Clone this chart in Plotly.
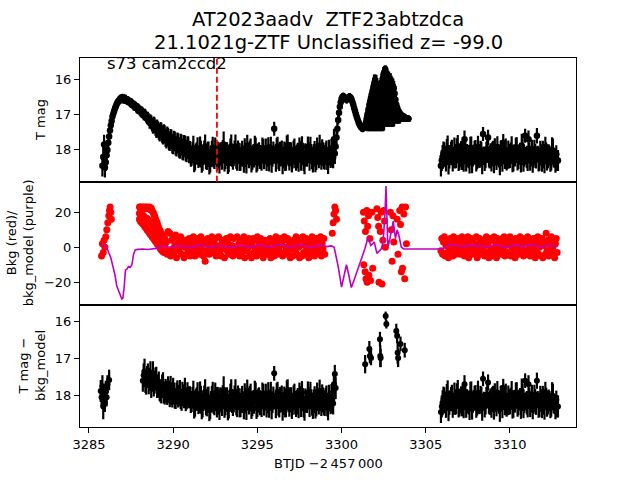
import numpy as np
import plotly.graph_objects as go

# ---------------- data ----------------
# Panel 1: T mag, rise/decay part, cadence 0.1 d from 3285.8 (two interleaved sets)
tmag_rise_start = 3285.8
tmag_rise = [18.45, 17.85, 18.35, 18.00, 17.62, 17.30, 17.05, 16.90, 16.76, 16.66,
             16.59, 16.55, 16.54, 16.55, 16.57, 16.60, 16.63, 16.67, 16.71, 16.75,
             16.79, 16.83, 16.87, 16.92, 16.96, 17.00, 17.06, 17.10, 17.21, 17.22,
             17.33, 17.30, 17.44, 17.42, 17.52, 17.48, 17.60, 17.56, 17.70, 17.64,
             17.76, 17.70, 17.84, 17.76, 17.90, 17.82, 17.95, 17.86, 18.00, 17.90,
             18.04, 17.94]
tmag_rise_b_start = 3285.85
tmag_rise_b = [18.20, 18.50, 18.15, 17.80, 17.45, 17.18, 16.97, 16.82, 16.70, 16.62,
               16.57, 16.55, 16.56, 16.57, 16.60, 16.62, 16.66, 16.68, 16.74, 16.76,
               16.82, 16.84, 16.90, 16.93, 17.00, 17.02, 17.10, 17.14, 17.18, 17.28,
               17.26, 17.38, 17.36, 17.48, 17.45, 17.56, 17.52, 17.66, 17.60, 17.74,
               17.68, 17.82, 17.74, 17.88, 17.80, 17.93, 17.84, 17.98, 17.88, 18.02,
               17.92, 18.06]
tmag_rise_err = [0.30, 0.28, 0.25, 0.22, 0.18, 0.15, 0.14, 0.13, 0.13, 0.13,
                 0.13, 0.13, 0.13, 0.13, 0.13, 0.13, 0.13, 0.14, 0.14, 0.14,
                 0.15, 0.15, 0.15, 0.16, 0.16, 0.17, 0.17, 0.18, 0.19, 0.20,
                 0.21, 0.22, 0.22, 0.23, 0.24, 0.25, 0.25, 0.26, 0.26, 0.27,
                 0.27, 0.28, 0.28, 0.28, 0.29, 0.29, 0.30, 0.30, 0.30, 0.31,
                 0.31, 0.32]

# quiescent part, cadence 0.1 d from 3291.0 (two interleaved sets)
tmag_quiet_start = 3291.0
tmag_quiet = [18.05, 18.20, 17.95, 18.30, 18.10, 18.25, 18.00, 18.35, 18.15, 17.90,
              18.28, 18.12, 18.40, 18.05, 18.22, 17.98, 18.33, 18.18, 18.08, 18.30,
              17.85, 18.25, 18.10, 18.38, 18.02, 18.20, 18.15, 17.92, 18.32, 18.10,
              18.26, 18.00, 18.36, 18.14, 17.88, 18.24, 18.06, 18.30, 18.18, 17.95,
              18.34, 18.12, 18.22, 17.96, 18.28, 18.04, 18.18, 18.35, 17.96, 18.20,
              17.40, 18.30, 17.90, 18.25, 18.14, 18.38, 18.02, 18.22, 17.86, 18.30,
              18.12, 18.26, 18.00, 18.34, 18.16, 17.94, 18.28, 18.08, 18.36, 18.18,
              17.92, 18.24, 18.10, 18.32, 18.04, 18.20, 18.14, 17.88, 18.30, 18.12,
              18.26, 18.00, 18.35, 18.15, 18.05, 18.22]
tmag_quiet_b_start = 3291.05
tmag_quiet_b = [18.18, 18.02, 18.28, 18.10, 17.96, 18.22, 18.12, 18.30, 18.00, 18.20,
                18.06, 18.34, 18.14, 17.94, 18.26, 18.10, 18.04, 18.32, 18.16, 17.98,
                18.24, 18.08, 18.36, 18.12, 17.90, 18.28, 18.04, 18.18, 18.00, 18.30,
                18.14, 18.22, 17.96, 18.32, 18.10, 18.02, 18.26, 18.16, 17.92, 18.34,
                18.06, 18.20, 18.30, 18.00, 18.14, 18.24, 17.94, 18.10, 18.32, 18.04,
                18.18, 17.98, 18.28, 18.12, 18.02, 18.22, 18.34, 17.96, 18.16, 18.06,
                18.30, 18.00, 18.20, 18.10, 18.26, 18.04, 17.92, 18.32, 18.14, 18.22,
                18.08, 17.98, 18.28, 18.16, 18.34, 18.02, 18.24, 18.12, 17.96, 18.20,
                18.10, 18.30, 18.04, 18.22, 18.12, 17.70]
tmag_quiet_err = [0.30, 0.25, 0.35, 0.28, 0.32, 0.26, 0.38, 0.30, 0.27, 0.34,
                  0.29, 0.36, 0.25, 0.31, 0.28, 0.33, 0.27, 0.35, 0.30, 0.26,
                  0.37, 0.29, 0.32, 0.25, 0.34, 0.28, 0.31, 0.36, 0.27, 0.30,
                  0.33, 0.26, 0.29, 0.35, 0.31, 0.28, 0.38, 0.27, 0.32, 0.30,
                  0.25, 0.34, 0.29, 0.31, 0.27, 0.36, 0.30, 0.26, 0.33, 0.28,
                  0.20, 0.32, 0.27, 0.35, 0.29, 0.31, 0.26, 0.37, 0.30, 0.28,
                  0.34, 0.27, 0.32, 0.25, 0.36, 0.29, 0.31, 0.28, 0.33, 0.26,
                  0.30, 0.35, 0.27, 0.32, 0.29, 0.37, 0.28, 0.31, 0.26, 0.34,
                  0.30, 0.27, 0.33, 0.29, 0.36, 0.30]

# outburst rise and first peak, cadence 0.05 d from 3299.6
tmag_flare_start = 3299.6
tmag_flare = [18.10, 17.90, 17.65, 17.40, 17.15, 16.95, 16.78, 16.65, 16.55, 16.50,
              16.48, 16.50, 16.53, 16.56, 16.58, 16.55, 16.52, 16.50, 16.50, 16.53,
              16.58, 16.65, 16.73, 16.82, 16.90, 16.98, 17.06, 17.13, 17.20, 17.26,
              17.31, 17.35, 17.37, 17.38, 17.37, 17.35, 17.30, 17.22]
tmag_flare_err = [0.30, 0.25, 0.20, 0.16, 0.13, 0.12, 0.11, 0.11, 0.11, 0.11,
                  0.11, 0.11, 0.11, 0.11, 0.11, 0.11, 0.11, 0.11, 0.11, 0.11,
                  0.11, 0.11, 0.12, 0.12, 0.12, 0.12, 0.12, 0.12, 0.12, 0.12,
                  0.12, 0.12, 0.12, 0.12, 0.12, 0.12, 0.14, 0.16]

# flickering second peak, cadence 0.05 d from 3301.5 (five brightness levels)
tmag_burst_start = 3301.5
tmag_burst_hi = [17.10, 16.98, 16.85, 16.72, 16.62, 16.52, 16.42, 16.32, 16.20, 16.10,
                 16.08, 16.12, 16.18, 16.28, 16.32, 16.32, 16.28, 16.18, 16.08, 15.97,
                 15.85, 15.80, 15.72, 15.82, 15.95, 16.00, 16.00, 16.02, 16.05, 16.10,
                 16.15, 16.20, 16.25, 16.40, 16.58, 16.72, 16.80, 16.88, 16.92, 16.96,
                 17.00, 17.02, 17.04, 17.05, 17.06, 17.08, 17.10, 17.10, 17.12, 17.12]
tmag_burst_hi_err = [0.15, 0.18, 0.20, 0.22, 0.22, 0.22, 0.22, 0.22, 0.25, 0.24,
                     0.22, 0.24, 0.22, 0.24, 0.22, 0.22, 0.24, 0.22, 0.24, 0.22,
                     0.20, 0.18, 0.12, 0.18, 0.20, 0.20, 0.22, 0.20, 0.22, 0.20,
                     0.20, 0.22, 0.20, 0.20, 0.18, 0.15, 0.14, 0.12, 0.12, 0.11,
                     0.10, 0.10, 0.09, 0.09, 0.09, 0.08, 0.08, 0.08, 0.08, 0.08]
tmag_burst_q1 = [17.14, 17.02, 16.92, 16.84, 16.76, 16.68, 16.61, 16.54, 16.45, 16.38,
                 16.37, 16.41, 16.44, 16.52, 16.54, 16.56, 16.52, 16.44, 16.37, 16.28,
                 16.20, 16.15, 16.11, 16.18, 16.28, 16.30, 16.30, 16.34, 16.35, 16.40,
                 16.42, 16.48, 16.50, 16.60, 16.72, 16.81, 16.88, 16.94, 16.96, 16.99,
                 17.02, 17.04, 17.05, 17.06, 17.08, 17.09, 17.10, 17.10, 17.12, 17.12]
tmag_burst_mid = [17.18, 17.05, 17.00, 16.95, 16.90, 16.85, 16.80, 16.75, 16.70, 16.65,
                  16.65, 16.70, 16.70, 16.75, 16.75, 16.80, 16.75, 16.70, 16.65, 16.60,
                  16.55, 16.50, 16.50, 16.55, 16.60, 16.60, 16.60, 16.65, 16.65, 16.70,
                  16.70, 16.75, 16.75, 16.80, 16.85, 16.90, 16.95, 17.00, 17.00, 17.02,
                  17.05, 17.06, 17.07, 17.08, 17.09, 17.10, 17.10, 17.11, 17.12, 17.12]
tmag_burst_mid_err = [0.15, 0.20, 0.25, 0.30, 0.35, 0.40, 0.45, 0.50, 0.55, 0.58,
                      0.58, 0.58, 0.58, 0.58, 0.58, 0.58, 0.58, 0.58, 0.58, 0.58,
                      0.58, 0.55, 0.55, 0.55, 0.55, 0.55, 0.55, 0.55, 0.55, 0.55,
                      0.55, 0.50, 0.45, 0.35, 0.28, 0.20, 0.15, 0.12, 0.10, 0.10,
                      0.08, 0.08, 0.08, 0.08, 0.08, 0.08, 0.08, 0.08, 0.08, 0.08]
tmag_burst_q3 = [17.22, 17.15, 17.12, 17.10, 17.08, 17.05, 17.02, 17.00, 16.98, 16.95,
                 16.95, 16.98, 16.98, 17.00, 17.00, 17.02, 17.00, 16.98, 16.95, 16.92,
                 16.90, 16.82, 16.82, 16.85, 16.88, 16.88, 16.88, 16.90, 16.90, 16.92,
                 16.92, 16.95, 16.95, 16.95, 16.98, 17.00, 17.02, 17.05, 17.05, 17.06,
                 17.08, 17.09, 17.10, 17.10, 17.10, 17.11, 17.11, 17.12, 17.12, 17.12]
tmag_burst_lo = [17.25, 17.25, 17.25, 17.25, 17.25, 17.25, 17.25, 17.25, 17.25, 17.25,
                 17.25, 17.25, 17.25, 17.25, 17.25, 17.25, 17.25, 17.25, 17.25, 17.25,
                 17.25, 17.15, 17.15, 17.15, 17.15, 17.15, 17.15, 17.15, 17.15, 17.15,
                 17.15, 17.15, 17.15, 17.10, 17.10, 17.10, 17.10, 17.10, 17.10, 17.10,
                 17.12, 17.12, 17.12, 17.12, 17.12, 17.12, 17.12, 17.12, 17.12, 17.12]
tmag_burst_lo_err = [0.20, 0.22, 0.20, 0.22, 0.20, 0.22, 0.20, 0.22, 0.20, 0.22,
                     0.20, 0.22, 0.20, 0.22, 0.20, 0.22, 0.20, 0.22, 0.20, 0.22,
                     0.20, 0.20, 0.18, 0.20, 0.18, 0.20, 0.18, 0.20, 0.18, 0.20,
                     0.18, 0.20, 0.18, 0.15, 0.15, 0.15, 0.15, 0.15, 0.15, 0.15,
                     0.08, 0.08, 0.08, 0.08, 0.08, 0.08, 0.08, 0.08, 0.08, 0.08]

# second orbit, cadence 0.1 d from 3305.9 (two interleaved sets)
tmag_orb2_start = 3305.9
tmag_orb2 = [18.45, 18.20, 18.05, 18.30, 17.95, 18.25, 18.10, 18.35, 18.00, 18.22,
             17.90, 18.30, 18.12, 18.02, 17.70, 18.28, 18.15, 18.36, 17.98, 18.20,
             18.08, 18.32, 17.92, 18.25, 18.12, 17.55, 18.30, 18.05, 17.65, 18.20,
             18.34, 18.10, 17.96, 18.26, 18.14, 18.38, 18.02, 17.80, 18.22, 18.30,
             18.08, 18.24, 17.94, 18.32, 18.16, 18.00, 18.28, 18.10, 17.88, 18.34,
             17.60, 18.20, 17.70, 18.30, 18.06, 18.24, 18.14, 17.60, 18.28, 18.04,
             18.36, 18.18, 17.92, 18.26, 18.12, 18.32, 18.00, 18.22, 18.40, 18.30]
tmag_orb2_b_start = 3305.95
tmag_orb2_b = [18.30, 18.10, 18.22, 18.00, 18.34, 18.14, 18.04, 18.26, 18.18, 17.96,
               18.28, 18.08, 18.20, 18.32, 18.02, 18.16, 18.24, 17.94, 18.30, 18.12,
               18.06, 18.26, 18.18, 18.00, 18.34, 18.10, 18.22, 17.98, 18.28, 18.14,
               18.04, 18.30, 18.16, 17.92, 18.24, 18.08, 18.32, 18.12, 18.00, 18.26,
               18.18, 18.06, 18.30, 18.14, 17.96, 18.22, 18.10, 18.34, 18.02, 18.20,
               18.12, 18.28, 18.04, 18.18, 18.30, 17.98, 18.22, 18.10, 18.26, 18.14,
               18.00, 18.32, 18.08, 18.20, 18.16, 18.28, 18.04, 18.24, 18.12, 18.30]
tmag_orb2_err = [0.30, 0.34, 0.27, 0.31, 0.36, 0.28, 0.33, 0.26, 0.35, 0.29,
                 0.32, 0.27, 0.37, 0.30, 0.25, 0.33, 0.28, 0.31, 0.36, 0.27,
                 0.34, 0.29, 0.32, 0.26, 0.35, 0.20, 0.30, 0.28, 0.22, 0.33,
                 0.27, 0.36, 0.29, 0.31, 0.26, 0.34, 0.30, 0.25, 0.32, 0.28,
                 0.35, 0.27, 0.33, 0.29, 0.31, 0.36, 0.26, 0.30, 0.34, 0.28,
                 0.20, 0.32, 0.25, 0.29, 0.35, 0.27, 0.31, 0.22, 0.33, 0.30,
                 0.26, 0.34, 0.29, 0.32, 0.28, 0.30, 0.36, 0.27, 0.25, 0.30]

# Panel 2: background flux (red)
bkg_a_t = [3285.75, 3285.8, 3285.85, 3285.9, 3285.95, 3286.0, 3286.06, 3286.12,
           3286.18, 3286.22, 3286.26, 3286.3, 3286.33]
bkg_a = [-5, 2, -3, 4, 0, 6, 10, 14, 18, 21, 23, 20, 16]
bkg_b_start = 3288.0  # cadence 0.05 d, upper / middle / lower points of the red wedge
bkg_b_hi = [23, 23, 22.5, 23, 22, 23, 22.5, 23, 22, 23, 22.5, 22, 23, 21.5, 22.5, 21,
            20, 19, 18, 16.5, 15, 14, 12.5, 11, 10, 9, 8, 7, 6.5, 5.5, 5]
bkg_b_mid = [19.5, 19, 18.5, 18.5, 18, 18, 17, 17, 16.5, 16.5, 16, 15.5, 15.5, 14.5, 14.5, 13.5,
             12.5, 12, 11, 10, 9, 8, 7, 6, 5, 4, 3.5, 2.5, 2, 1.5, 1]
bkg_b_lo = [16, 15, 14.5, 14, 13.5, 13, 12, 11.5, 11, 10, 9.5, 9, 8, 7.5, 7, 6,
            5.5, 5, 4, 3.5, 3, 2, 1.5, 1, 0, -1, -1.5, -2, -2.5, -3, -3]
bkg_c_start = 3289.6  # cadence 0.05 d
bkg_c = [3, -4, 9, -2, 8, -5, 4, -1, 6, -3, 1, 7, -6, 2, 5, -2, 0, 6, -4, 3,
         2, -6, 0, 4, -4, 3, -2, 5, -5, 1, 4, -3, 6, 0, -5, 2, 5, -1, 3, -4,
         -3, 6, -1, 2, -5, 4, -8, 3, -2, 5, 1, -4, 4, -2, 6, 0, -3, 2, 5, -5,
         0, -4, 6, -3, 1, -5, 4, -1, 3, -6, 2, 5, -2, 4, -4, 0, 6, -3, 1, -5,
         5, -2, 0, -4, 6, -3, 2, -5, 4, -1, -3, 3, 6, -6, 1, 4, -2, 0, 5, -4,
         3, -6, 1, 5, -3, -2, 4, -5, 6, 0, 2, -4, 5, -1, 3, -6, 0, 4, -3, 2,
         -4, 2, -1, 5, -6, 3, -2, 4, -5, 1, 6, -1, -4, 3, 0, 5, -3, 2, -5, 4,
         6, -3, 0, -4, 5, -2, 3, -6, 2, -1, -5, 4, 1, -2, 6, -4, 3, 0, -6, 5,
         4, -5, 6, -3, 1, -4, 5, -2, 3, -6, 2, 0, -3, 6, -1, 4, -5, 1, 5, -2,
         0, 4, -3, 6, -5, 2, -1, 5, -4]
bkg_d_t = [3299.45, 3299.5, 3299.55, 3299.6, 3299.65, 3299.7]
bkg_d = [8, 14, 19, 23, 21, 16]
bkg_e_t = [3301.3, 3301.32, 3301.35, 3301.4, 3301.42, 3301.45, 3301.5, 3301.52, 3301.55,
           3301.6, 3301.62, 3301.68, 3301.72, 3301.8, 3301.85, 3302.1, 3302.15, 3302.2,
           3302.22, 3302.3, 3302.35, 3302.4, 3302.45, 3302.5, 3302.55, 3302.6, 3302.9,
           3302.95, 3303.0, 3303.05, 3303.1, 3303.3, 3303.35, 3303.45, 3303.5, 3303.55,
           3303.6, 3303.62, 3303.7, 3303.75, 3303.8, 3303.85]
bkg_e = [20, -10, 15, -14, 9, -18, 21, -20, 12,
         18, -16, 5, -19, 20, -12, 22, 17, 12,
         -20, 9, 20, -21, 4, 21, 15, 0, 20,
         10, -8, 18, 3, 16, -4, 21, 13, -14,
         23, -12, 19, -18, 23, 2]
bkg_f_start = 3305.9  # cadence 0.05 d
bkg_f = [-2, 5, -4, 3, 6, -5, 1, -3, 4, -6, 0, 5, -2, 3, -5, 6, -1, 2, -4, 4,
         2, 5, -1, -4, 3, 6, -2, 0, -5, 4, -3, 1, 6, -6, 2, -1, 5, -4, 3, 0,
         1, -3, 6, -6, 2, -1, 5, -4, 3, 0, -2, 4, -5, 1, 6, -3, 2, -6, 5, -1,
         -5, 4, -2, 6, -3, 1, -6, 5, -1, 3, 0, -4, 2, 5, -2, 6, -5, 1, 4, -3,
         -4, 2, 6, -5, 0, 4, -3, 1, -6, 5, 3, -1, -4, 2, 6, -2, 0, 5, -5, 3,
         3, -2, -4, 6, -1, 2, -5, 4, 0, -3, 5, 1, -6, 3, -2, 6, -4, 0, 2, -5,
         5, -6, 1, 3, -4, 8, -2, 4, -5, 2, -1, 6, -3, 0, 4, -6, 2, 5, -3]

# Panel 2: background model (purple)
bkgm_t = [3285.75, 3285.9, 3286.05, 3286.15, 3286.3, 3286.45, 3286.55, 3286.65, 3286.75, 3286.85,
          3286.95, 3287.02, 3287.1, 3287.17, 3287.25, 3287.35, 3287.45, 3287.55, 3287.65, 3287.75,
          3287.9, 3288.2, 3288.5, 3288.8, 3289.1, 3289.3, 3289.5,
          3289.8, 3290.1, 3290.4, 3290.7, 3291.0, 3291.3, 3291.6, 3291.9, 3292.2, 3292.5,
          3292.8, 3293.1, 3293.4, 3293.7, 3294.0, 3294.3, 3294.6, 3294.9, 3295.2, 3295.5,
          3295.8, 3296.1, 3296.4, 3296.7, 3297.0, 3297.3, 3297.6, 3297.9, 3298.2, 3298.5,
          3298.8, 3299.1, 3299.4, 3299.56,
          3299.8, 3300.0, 3300.12, 3300.29, 3300.41, 3300.58, 3300.77, 3301.0, 3301.2, 3301.38,
          3301.57, 3301.74, 3301.94, 3302.1, 3302.35, 3302.47, 3302.58, 3302.64, 3302.69, 3302.75,
          3302.85, 3302.95, 3303.07, 3303.2, 3303.3, 3303.4, 3303.55, 3303.7,
          3305.98, 3306.2, 3306.5, 3306.8, 3307.1, 3307.4, 3307.7, 3308.0, 3308.3, 3308.6,
          3308.9, 3309.2, 3309.5, 3309.8, 3310.1, 3310.4, 3310.7, 3311.0, 3311.3, 3311.6,
          3311.9, 3312.2, 3312.5, 3312.76]
bkgm = [1.5, 1, 0, -2, -6, -12, -16, -22, -25, -27,
        -29.5, -29, -22, -13, -12.5, -11, -11.5, -10, -4, -1.5,
        -1.2, -1, -1.3, -1, -0.5, 1, 0.5,
        0, 0.5, 1, 0.3, -0.2, 0.5, 1.2, 0.4, 0, 0.6,
        1, 0.2, -0.3, 0.5, 1, 0.6, 0, 0.8, 1.3, 0.5,
        0.2, 1, 1.5, 0.7, 0.2, 0.9, 1.4, 0.6, 0, 0.8,
        1.2, 0.4, 0.8, 0,
        -11, -22.8, -18, -10, -15, -23, -18, -12, -6, -1,
        5.6, 1, 3, -3.5, -1, 3, 20, 35, 18, 0,
        4, 9, 15, 5, 10, 7, 0, -1,
        -1, 0.5, 1.5, 1, 0.3, 0.8, 1.2, 0.5, 1, 0.2,
        0.8, 1.3, 0.5, 0, 0.9, 1.2, 0.4, 0.8, 1.5, 0.6,
        0.2, 1, 0.5, 0.8]

# Panel 3: T mag - bkg_model
corr_a_t = [3285.7, 3285.75, 3285.8, 3285.85, 3285.9, 3285.95, 3286.0, 3286.05, 3286.1, 3286.2]
corr_a = [17.88, 18.05, 17.75, 18.30, 18.00, 18.20, 17.90, 18.05, 17.70, 17.58]
corr_a_err = [0.30, 0.25, 0.30, 0.35, 0.30, 0.25, 0.30, 0.25, 0.25, 0.28]
corr_b_start = 3288.2  # cadence 0.1 d
corr_b = [17.60, 17.35, 17.70, 17.45, 17.55, 17.80, 17.40, 17.65, 17.50, 17.75,
          17.85, 17.95, 17.70, 18.00, 17.90, 17.80, 18.05, 17.95, 17.85, 18.10,
          17.95, 18.05, 17.90, 18.15, 18.00, 17.85, 18.10, 18.05]
corr_b_err = [0.30, 0.35, 0.28, 0.32, 0.30, 0.27, 0.33, 0.30, 0.28, 0.31,
              0.30, 0.27, 0.33, 0.25, 0.30, 0.32, 0.27, 0.30, 0.33, 0.26,
              0.30, 0.28, 0.32, 0.27, 0.30, 0.33, 0.28, 0.30]
corr_b2_start = 3288.25
corr_b2 = [17.45, 17.65, 17.50, 17.70, 17.40, 17.60, 17.75, 17.55, 17.80, 17.65,
           17.90, 17.75, 17.95, 17.85, 18.00, 17.90, 17.80, 18.05, 17.95, 18.10,
           17.90, 18.00, 18.10, 17.95, 18.05, 18.15, 17.95]
corr_b2_err = [0.32, 0.28, 0.30, 0.27, 0.33, 0.30, 0.28, 0.31, 0.27, 0.30,
               0.29, 0.32, 0.27, 0.30, 0.26, 0.31, 0.33, 0.28, 0.30, 0.27,
               0.31, 0.29, 0.27, 0.32, 0.30, 0.28, 0.31]
corr_c_t = [3299.55, 3299.6, 3299.65]
corr_c = [17.75, 17.42, 17.80]
corr_c_err = [0.30, 0.25, 0.30]
corr_d_t = [3301.4, 3301.65, 3301.68, 3301.75, 3302.28, 3302.3, 3302.32, 3302.62, 3302.66,
            3303.25, 3303.3, 3303.33, 3303.36, 3303.5, 3303.75]
corr_d = [17.15, 16.74, 16.93, 16.98, 16.47, 16.93, 16.98, 15.84, 16.06,
          16.25, 16.38, 16.84, 16.98, 16.60, 16.77]
corr_d_err = [0.25, 0.22, 0.20, 0.20, 0.20, 0.30, 0.25, 0.12, 0.12,
              0.20, 0.20, 0.30, 0.25, 0.20, 0.20]

sector_label = "s73 cam2ccd2"
marker_time = 3292.6
x_ticks = [3285, 3290, 3295, 3300, 3305, 3310]


def grid(start, step, n):
    return list(np.round(start + step * np.arange(n), 3))


# assemble series
t_quiet = grid(tmag_quiet_start, 0.1, len(tmag_quiet)) + grid(tmag_quiet_b_start, 0.1, len(tmag_quiet_b))
m_quiet = tmag_quiet + tmag_quiet_b
e_quiet = tmag_quiet_err + tmag_quiet_err
t_orb2 = grid(tmag_orb2_start, 0.1, len(tmag_orb2)) + grid(tmag_orb2_b_start, 0.1, len(tmag_orb2_b))
m_orb2 = tmag_orb2 + tmag_orb2_b
e_orb2 = tmag_orb2_err + tmag_orb2_err

t1 = (grid(tmag_rise_start, 0.1, len(tmag_rise)) + grid(tmag_rise_b_start, 0.1, len(tmag_rise_b))
      + t_quiet + grid(tmag_flare_start, 0.05, len(tmag_flare)) + t_orb2)
m1 = tmag_rise + tmag_rise_b + m_quiet + tmag_flare + m_orb2
e1 = tmag_rise_err + tmag_rise_err + e_quiet + tmag_flare_err + e_orb2

tbu = grid(tmag_burst_start, 0.05, len(tmag_burst_hi))

tb = grid(bkg_b_start, 0.05, len(bkg_b_hi))
t2 = (bkg_a_t + tb + tb + tb + grid(bkg_c_start, 0.05, len(bkg_c))
      + bkg_d_t + bkg_e_t + grid(bkg_f_start, 0.05, len(bkg_f)))
b2 = bkg_a + bkg_b_hi + bkg_b_mid + bkg_b_lo + bkg_c + bkg_d + bkg_e + bkg_f

# the corrected light curve equals T mag where bkg_model ~ 0
t3 = (corr_a_t + grid(corr_b_start, 0.1, len(corr_b)) + grid(corr_b2_start, 0.1, len(corr_b2))
      + t_quiet + corr_c_t + corr_d_t + t_orb2)
m3 = corr_a + corr_b + corr_b2 + m_quiet + corr_c + corr_d + m_orb2
e3 = corr_a_err + corr_b_err + corr_b2_err + e_quiet + corr_c_err + corr_d_err + e_orb2

# ---------------- figure ----------------
FONT = "DejaVu Sans"
fig = go.Figure()

err_style = dict(type="data", symmetric=True, color="black", thickness=2.2, width=0)
err_burst = dict(type="data", symmetric=True, color="black", thickness=3, width=0)

fig.add_trace(go.Scatter(x=t1, y=m1, mode="markers", xaxis="x", yaxis="y",
                         marker=dict(color="black", size=6.5),
                         error_y=dict(array=e1, **err_style), hoverinfo="skip"))
for vals, errs in ((tmag_burst_lo, tmag_burst_lo_err),
                   (tmag_burst_q3, tmag_burst_hi_err),
                   (tmag_burst_mid, tmag_burst_mid_err),
                   (tmag_burst_q1, tmag_burst_hi_err),
                   (tmag_burst_hi, tmag_burst_hi_err)):
    fig.add_trace(go.Scatter(x=tbu, y=vals, mode="markers", xaxis="x", yaxis="y",
                             marker=dict(color="black", size=6.5),
                             error_y=dict(array=errs, **err_burst), hoverinfo="skip"))
fig.add_trace(go.Scatter(x=t2, y=b2, mode="markers", xaxis="x2", yaxis="y2",
                         marker=dict(color="red", size=7), hoverinfo="skip"))
fig.add_trace(go.Scatter(x=bkgm_t, y=bkgm, mode="lines", xaxis="x2", yaxis="y2",
                         line=dict(color="#bf00bf", width=1.6), hoverinfo="skip"))
fig.add_trace(go.Scatter(x=t3, y=m3, mode="markers", xaxis="x3", yaxis="y3",
                         marker=dict(color="black", size=6),
                         error_y=dict(array=e3, **err_style), hoverinfo="skip"))

xr = [3284.47, 3313.92]
XD = [0.125, 0.9]
common_ax = dict(showline=True, mirror=True, linecolor="black", linewidth=1,
                 showgrid=False, zeroline=False, ticks="outside", ticklen=5,
                 tickwidth=1, tickcolor="black", automargin=False,
                 tickfont=dict(family=FONT, size=13, color="black"))

fig.update_layout(
    template=go.layout.Template(),
    width=640, height=480,
    margin=dict(l=0, r=0, t=0, b=0, pad=0, autoexpand=False),
    paper_bgcolor="white", plot_bgcolor="white",
    showlegend=False,
    font=dict(family=FONT, color="black"),
    xaxis=dict(domain=XD, range=xr, anchor="y", showticklabels=False,
               **{**common_ax, "ticks": ""}),
    xaxis2=dict(domain=XD, range=xr, anchor="y2", showticklabels=False,
                **{**common_ax, "ticks": ""}),
    xaxis3=dict(domain=XD, range=xr, anchor="y3", tickvals=x_ticks, **common_ax),
    yaxis=dict(domain=[0.6215, 0.8785], range=[18.90, 15.405], anchor="x",
               tickvals=[16, 17, 18], **common_ax),
    yaxis2=dict(domain=[0.3646, 0.6215], range=[-33.0, 37.5], anchor="x2",
                tickvals=[-20, 0, 20], ticktext=["\u221220", "0", "20"], **common_ax),
    yaxis3=dict(domain=[0.1104, 0.3646], range=[18.86, 15.54], anchor="x3",
                tickvals=[16, 17, 18], **common_ax),
)

# red dashed marker line in the top panel
fig.add_shape(type="line", xref="x", yref="y domain", x0=marker_time, x1=marker_time,
              y0=0, y1=1, line=dict(color="red", width=1.8, dash="6px,3px"))

ann_font = dict(family=FONT, size=13, color="black")
title_font = dict(family=FONT, size=19.5, color="black")
anns = [
    dict(text="AT2023aadv  ZTF23abtzdca", x=0.5125, y=1 - 20 / 480, font=title_font),
    dict(text="21.1021g-ZTF Unclassified z= -99.0", x=0.5125, y=1 - 42 / 480, font=title_font),
    dict(text=sector_label, x=105 / 640, y=1 - 64 / 480, xanchor="left",
         font=dict(family=FONT, size=16.5, color="black")),
    dict(text="T mag", x=40 / 640, y=0.75, textangle=-90, font=ann_font),
    dict(text="Bkg (red)/<br>bkg_model (purple)", x=20 / 640, y=0.493, textangle=-90, font=ann_font),
    dict(text="T mag \u2212<br>bkg_model", x=32 / 640, y=0.2375, textangle=-90, font=ann_font),
    dict(text="BTJD \u22122\u2009457\u2009000", x=0.5125, y=1 - 463 / 480, font=ann_font),
]
for a in anns:
    a.setdefault("xanchor", "center")
    fig.add_annotation(xref="paper", yref="paper", showarrow=False, yanchor="middle", **a)

fig.write_html("out.html", config={"displayModeBar": False},
               post_script="document.body.style.margin='0';document.body.style.overflow='hidden';")
